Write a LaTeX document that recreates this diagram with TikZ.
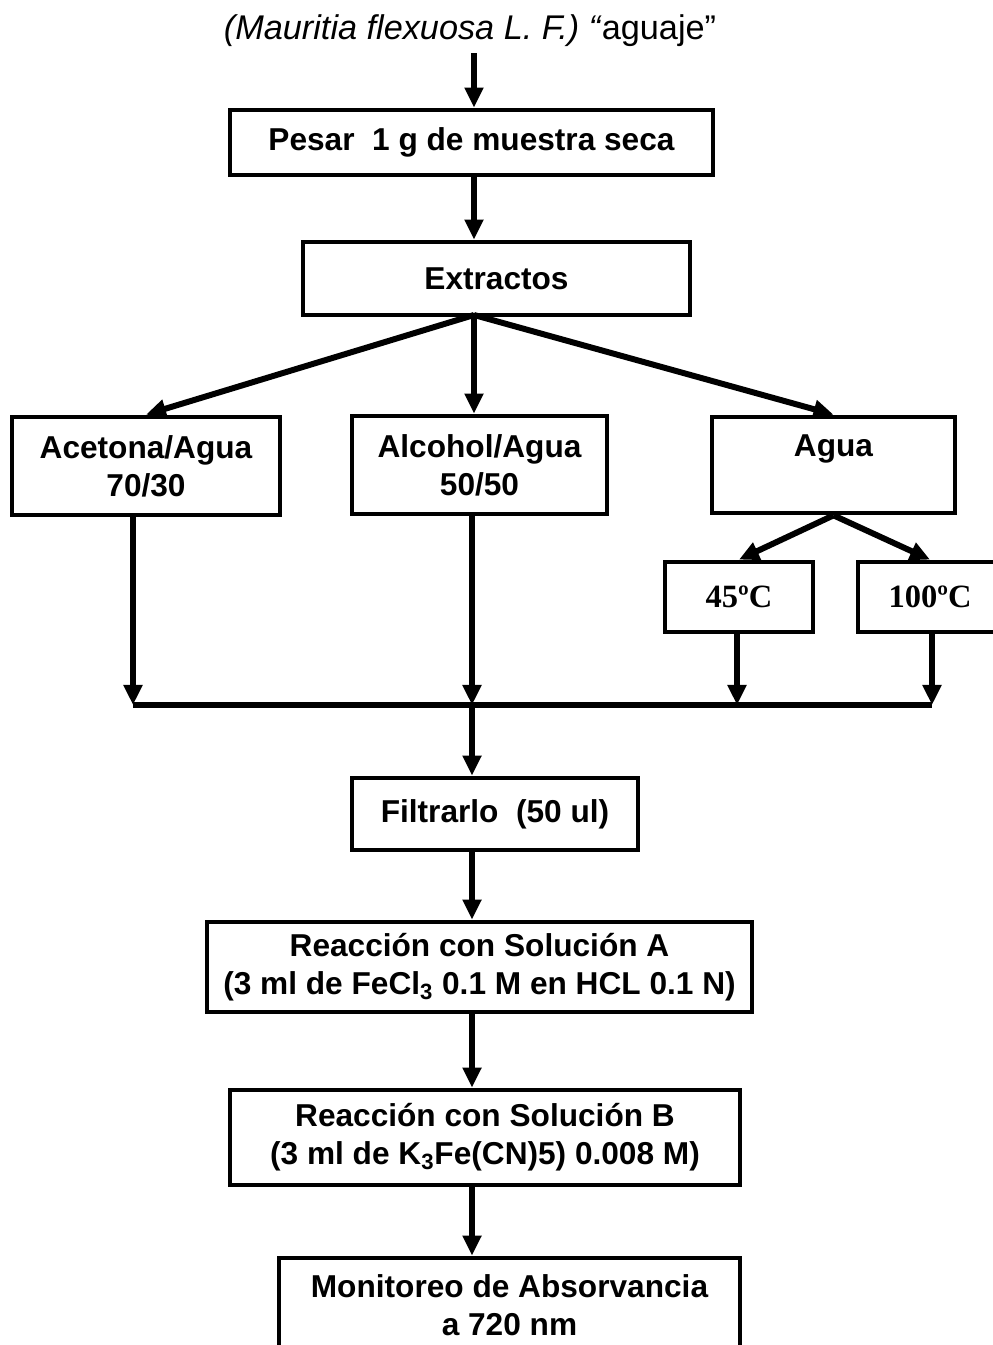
\documentclass[tikz,border=0pt]{standalone}
\usepackage{fontspec}
\setmainfont{Liberation Sans}
\newfontfamily\tnr{Liberation Serif}
\usetikzlibrary{arrows.meta}
\tikzset{
	caja/.style={draw, line width=2.7pt, align=center, inner sep=2pt,
		font=\fontsize{18}{21.5}\selectfont\bfseries},
	temp/.style={caja, font=\tnr\fontsize{18.5}{21.5}\selectfont\bfseries},
	flecha/.style={line width=3.4pt, -{Triangle[length=0.4cm,width=0.36cm]}},
	linea/.style={line width=3.4pt}
}

\begin{document}
\begin{tikzpicture}
				\useasboundingbox (0,0) rectangle (19.86,26.9);
				\draw (9.4,26.28) node[font=\fontsize{19.5}{23}\selectfont] (titulo) {\textit{(Mauritia flexuosa L. F.) “}aguaje”};
				\draw (9.43,24.05) node[caja, minimum width=9.66cm, minimum height=1.3cm] (pesar) {Pesar\ \ 1 g de muestra seca};
				\draw (9.93,21.33) node[caja, minimum width=7.74cm, minimum height=1.46cm] (extractos) {Extractos};
				\draw (2.92,17.58) node[caja, minimum width=5.36cm, minimum height=1.96cm] (acetona) {Acetona/Agua\\70/30};
				\draw (9.59,17.6) node[caja, minimum width=5.1cm, minimum height=1.96cm] (alcohol) {Alcohol/Agua\\50/50};
				\draw (16.67,17.6) node[caja, minimum width=4.86cm, minimum height=1.92cm] (agua) {Agua\\\mbox{}};
				\draw (14.78,14.96) node[temp, minimum width=2.96cm, minimum height=1.4cm] (t45) {45ºC};
				\draw (18.6,14.96) node[temp, minimum width=2.88cm, minimum height=1.4cm] (t100) {100ºC};
				\draw (9.9,10.62) node[caja, minimum width=5.72cm, minimum height=1.44cm] (filtrar) {Filtrarlo\ \ (50 ul)};
				\draw (9.59,7.56) node[caja, minimum width=10.9cm, minimum height=1.8cm] (reacA) {Reacción con Solución A\\(3 ml de FeCl\textsubscript{3} 0.1 M en HCL 0.1 N)};
				\draw (9.7,4.15) node[caja, minimum width=10.2cm, minimum height=1.9cm] (reacB) {Reacción con Solución B\\(3 ml de K\textsubscript{3}Fe(CN)5) 0.008 M)};
				\draw (10.19,0.8) node[caja, minimum width=9.22cm, minimum height=1.88cm] (monitor) {Monitoreo de Absorvancia\\a 720 nm};
				\coordinate (split) at (9.48,20.6);
				\coordinate (b1) at (2.66,12.8);
				\coordinate (b2) at (9.44,12.8);
				\coordinate (b3) at (14.74,12.8);
				\coordinate (b4) at (18.64,12.8);
		
				\path[flecha]
				(split |- titulo.south) edge (split |- pesar.north)
				(split |- pesar.south) edge (split |- extractos.north)
				(split) edge (acetona.north)
				(split) edge (split |- alcohol.north)
				(split) edge (agua.north)
				(agua.south) edge (t45.north)
				(agua.south) edge (t100.north)
				(b1 |- acetona.south) edge (b1)
				(b2 |- alcohol.south) edge (b2)
				(b3 |- t45.south) edge (b3)
				(b4 |- t100.south) edge (b4)
				(b2) edge (b2 |- filtrar.north)
				(b2 |- filtrar.south) edge (b2 |- reacA.north)
				(b2 |- reacA.south) edge (b2 |- reacB.north)
				(b2 |- reacB.south) edge (b2 |- monitor.north)
				;
				\draw[linea] (b1) -- (b4);
			\end{tikzpicture}
\end{document}
